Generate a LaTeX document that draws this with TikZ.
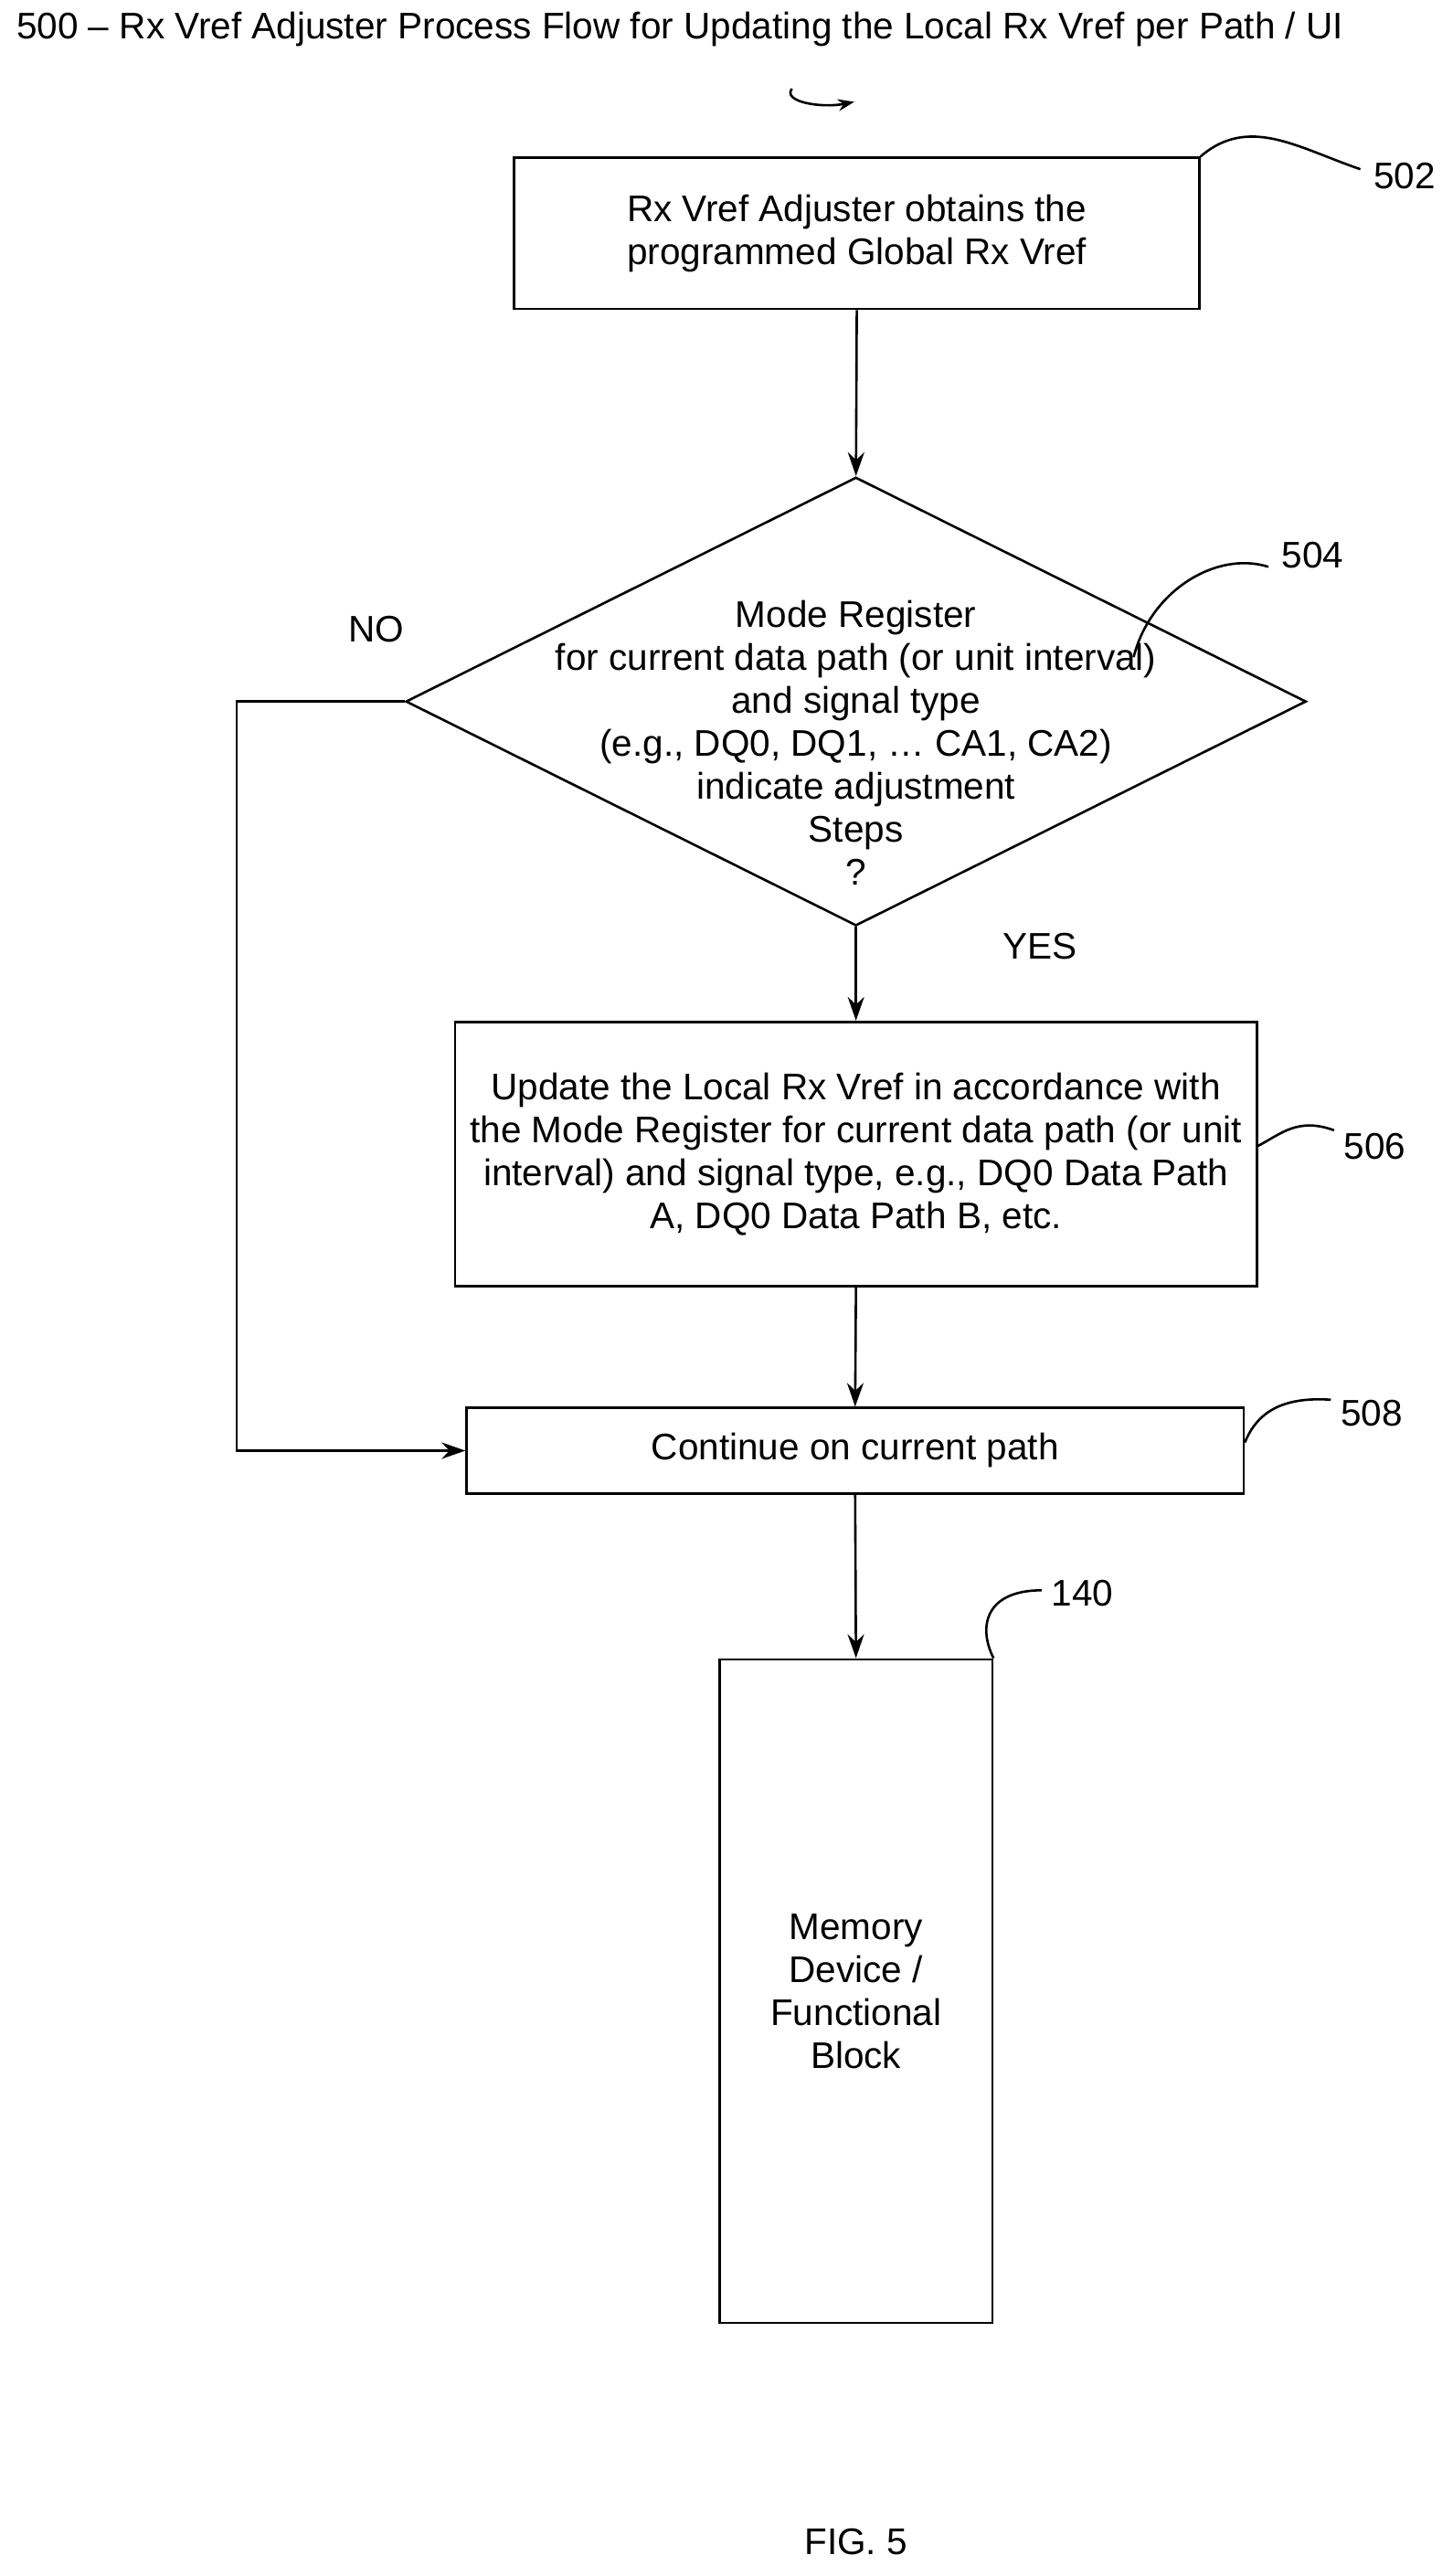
\documentclass[tikz,border=0pt]{standalone}
\usepackage{fontspec}
\setmainfont{Liberation Sans}
\usetikzlibrary{shapes.geometric,arrows.meta}
\begin{document}
\begin{tikzpicture}[x=1.797pt,y=-1.797pt,
  every node/.style={font=\fontsize{40.5}{47}\selectfont},
  box/.style={draw,line width=2.6pt,inner sep=0pt,align=center},
  ln/.style={line width=2.6pt},
  arr/.style={ln,-{Stealth[length=26pt,width=18pt]}},
  lbl/.style={anchor=west,inner sep=0pt}]
\useasboundingbox[fill=white] (0,0) rectangle (884,1568);
\node[anchor=west,inner sep=0pt] (title) at (10,18) {500 -- Rx Vref Adjuster Process Flow for Updating the Local Rx Vref per Path / UI};
\coordinate (sq1) at (482,54);
\coordinate (sq2) at (520,62);
\draw[ln,-{Stealth[length=18pt,width=13pt]}] (sq1) .. controls (476,62) and (500,66) .. (sq2);

\node[box,minimum width=417*1.797pt,minimum height=92*1.797pt] (b502) at (521.5,142) {Rx Vref Adjuster obtains the\\programmed Global Rx Vref};
\node[lbl] (l502) at (836,107) {502};
\draw[ln] (b502.north east) .. controls (760,70) and (790,90) .. (828,103);

\node[draw,line width=2.6pt,shape=diamond,minimum width=548*1.797pt,minimum height=273*1.797pt,inner sep=0pt] (d504) at (521,427) {};
\node[align=center,inner sep=0pt] (t504) at (521,452) {Mode Register\\for current data path (or unit interval)\\and signal type\\(e.g., DQ0, DQ1, \ldots\ CA1, CA2)\\indicate adjustment\\Steps\\?};
\node[lbl] (l504) at (780,338) {504};
\draw[ln] (690,400) .. controls (700,360) and (740,335) .. (772,345);
\node[inner sep=0pt] (no) at (229,383) {NO};
\node[inner sep=0pt] (yes) at (633,576) {YES};

\node[box,minimum width=488*1.797pt,minimum height=161*1.797pt] (b506) at (521,702.5) {Update the Local Rx Vref in accordance with\\the Mode Register for current data path (or unit\\interval) and signal type, e.g., DQ0 Data Path\\A, DQ0 Data Path B, etc.};
\node[lbl] (l506) at (818,698) {506};
\draw[ln] (b506.east) ++(0,-5) .. controls (780,690) and (790,680) .. (812,688);

\node[box,minimum width=473*1.797pt,minimum height=52*1.797pt] (b508) at (520.5,883) {Continue on current path};
\node[lbl] (l508) at (816,860) {508};
\draw[ln] (b508.east) ++(0,-5) .. controls (765,860) and (780,850) .. (810,852);

\node[box,minimum width=166*1.797pt,minimum height=404*1.797pt] (b140) at (521,1212) {Memory\\Device /\\Functional\\Block};
\node[lbl] (l140) at (640,970) {140};
\draw[ln] (b140.north east) .. controls (595,990) and (600,968) .. (634,968);

\node[inner sep=0pt] (fig) at (521,1547) {FIG. 5};

\draw[arr] (b502.south) -- (d504.north);
\draw[arr] (d504.south) -- (b506.north);
\draw[arr] (b506.south) -- (b508.north);
\draw[arr] (b508.south) -- (b140.north);
\coordinate (c1) at (144,427);
\coordinate (c2) at (144,883);
\draw[arr] (d504.west) -- (c1) -- (c2) -- (b508.west);
\end{tikzpicture}
\end{document}
